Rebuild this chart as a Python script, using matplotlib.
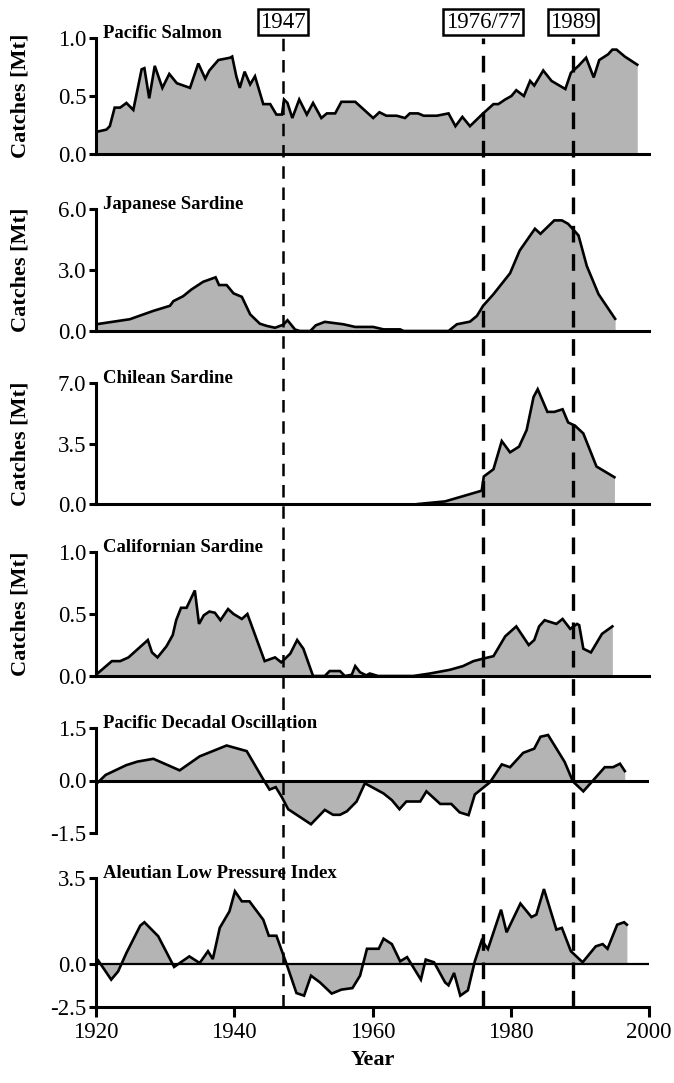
import numpy as np
import matplotlib
matplotlib.use("Agg")
import matplotlib.pyplot as plt

plt.rcParams["font.family"] = ["Liberation Serif", "DejaVu Serif"]
plt.rcParams["axes.unicode_minus"] = False

# ── data ──
salmon_yr = [1920, 1921.5, 1922, 1922.7, 1923.5, 1924.4, 1925.4, 1926.6, 1927, 1927.7,
             1928.5, 1929.6, 1930.6, 1931.7, 1933.6, 1934.8, 1935.8, 1936.4, 1937.7, 1939.4,
             1939.7, 1940.3, 1940.8, 1941.5, 1942.3, 1943, 1944.2, 1945.2, 1946.1, 1946.9,
             1947.2, 1947.7, 1948.4, 1949.4, 1950.5, 1951.4, 1952.6, 1953.4, 1954.6, 1955.5,
             1957.5, 1960.1, 1961, 1962, 1963.5, 1964.7, 1965.4, 1966.6, 1967.4, 1969.3,
             1971, 1972, 1973, 1974.1, 1976, 1977.5, 1978.2, 1979.2, 1980.1, 1980.8,
             1981.9, 1982.8, 1983.4, 1984.7, 1985.9, 1987.9, 1988.7, 1989.8, 1990.9, 1992,
             1992.8, 1994.1, 1994.7, 1995.3, 1996.5, 1998.3]
salmon = [0.19, 0.21, 0.24, 0.40, 0.40, 0.44, 0.38, 0.73, 0.74, 0.48,
          0.76, 0.57, 0.69, 0.61, 0.57, 0.78, 0.65, 0.72, 0.81, 0.83,
          0.84, 0.67, 0.57, 0.71, 0.60, 0.67, 0.43, 0.43, 0.34, 0.34,
          0.47, 0.44, 0.31, 0.47, 0.34, 0.44, 0.31, 0.35, 0.35, 0.45,
          0.45, 0.31, 0.36, 0.33, 0.33, 0.31, 0.35, 0.35, 0.33, 0.33,
          0.35, 0.24, 0.32, 0.24, 0.35, 0.43, 0.43, 0.47, 0.50, 0.55,
          0.50, 0.63, 0.59, 0.72, 0.63, 0.56, 0.70, 0.76, 0.83, 0.66,
          0.81, 0.86, 0.90, 0.90, 0.84, 0.77]

jap_yr = [1920, 1924.9, 1928.3, 1930.7, 1931.2, 1932.6, 1933.8, 1935.5, 1937.3, 1937.8,
          1938.9, 1939.9, 1941.1, 1942.3, 1943.7, 1944.7, 1945.9, 1947.1, 1947.7, 1948.8,
          1949.5, 1951, 1951.8, 1953.1, 1955.8, 1957.5, 1960.1, 1961.6, 1964, 1964.5,
          1971, 1972.2, 1974.1, 1975.1, 1976, 1977.5, 1979.9, 1981.3, 1983.5, 1984.3,
          1986.3, 1987.4, 1988.3, 1989.8, 1991, 1992.7, 1995.1]
jap = [0.33, 0.58, 0.99, 1.24, 1.47, 1.71, 2.04, 2.42, 2.64, 2.26,
       2.26, 1.85, 1.68, 0.82, 0.36, 0.25, 0.16, 0.31, 0.53, 0.07,
       0.0, 0.0, 0.28, 0.45, 0.33, 0.20, 0.20, 0.08, 0.08, 0.0,
       0.0, 0.33, 0.46, 0.74, 1.24, 1.81, 2.84, 3.96, 5.03, 4.78,
       5.44, 5.44, 5.27, 4.70, 3.20, 1.81, 0.60]

chile_yr = [1966.6, 1970.5, 1975.8, 1976.1, 1977.5, 1978.7, 1979.9, 1981.2, 1982.3, 1983.3,
            1983.9, 1985.3, 1986.3, 1987.5, 1988.3, 1989.3, 1990.5, 1992.4, 1995]
chile = [0.0, 0.15, 0.77, 1.59, 2.01, 3.64, 2.99, 3.32, 4.28, 6.19,
         6.64, 5.33, 5.33, 5.48, 4.72, 4.53, 4.08, 2.17, 1.55]

cal_yr = [1920, 1922.3, 1923.5, 1924.7, 1926.1, 1927.5, 1928.1, 1928.9, 1930.2, 1931.1,
          1931.6, 1932.3, 1933.1, 1934.3, 1934.9, 1935.6, 1936.4, 1937.2, 1938, 1939.1,
          1939.9, 1941.1, 1941.9, 1944.4, 1945.9, 1946.8, 1948.1, 1949.1, 1950, 1951.4,
          1953.1, 1953.8, 1955.3, 1956, 1957, 1957.5, 1958.2, 1959.1, 1959.6, 1960.8,
          1965.9, 1968.3, 1971.2, 1973.1, 1974.6, 1976, 1977.5, 1979.2, 1980.8, 1982.6,
          1983.4, 1984.1, 1984.9, 1986.6, 1987.5, 1988.6, 1989.6, 1989.9, 1990.5, 1991.6,
          1993.2, 1994.7]
cal = [0.01, 0.12, 0.12, 0.15, 0.22, 0.29, 0.19, 0.15, 0.24, 0.33,
       0.45, 0.55, 0.55, 0.69, 0.42, 0.49, 0.52, 0.51, 0.45, 0.54,
       0.50, 0.46, 0.50, 0.12, 0.15, 0.11, 0.18, 0.29, 0.22, 0.0,
       0.0, 0.04, 0.04, 0.0, 0.01, 0.08, 0.03, 0.005, 0.02, 0.0,
       0.0, 0.02, 0.05, 0.08, 0.12, 0.14, 0.16, 0.32, 0.40, 0.25,
       0.29, 0.40, 0.45, 0.42, 0.46, 0.38, 0.42, 0.41, 0.22, 0.19,
       0.34, 0.40]

pdo_yr = [1920.3, 1921.4, 1924.4, 1926, 1928.3, 1932.1, 1935, 1938.9, 1941.8, 1944.2,
          1945.1, 1946, 1946.9, 1947.8, 1951.1, 1953.1, 1954.3, 1955.3, 1956.3, 1957.7,
          1958.9, 1961.6, 1962.8, 1963.9, 1964.9, 1966.9, 1967.8, 1969.8, 1971.4, 1972.6,
          1973.9, 1974.8, 1975.8, 1977, 1978.7, 1979.9, 1981.8, 1983.4, 1984.3, 1985.4,
          1987.8, 1989, 1990.5, 1991.9, 1993.6, 1994.8, 1995.8, 1996.5]
pdo = [-0.05, 0.16, 0.44, 0.54, 0.62, 0.29, 0.69, 1.0, 0.84, 0.03,
       -0.26, -0.19, -0.48, -0.82, -1.25, -0.84, -0.98, -0.98, -0.88, -0.60,
       -0.08, -0.37, -0.56, -0.82, -0.60, -0.60, -0.31, -0.67, -0.67, -0.91,
       -0.99, -0.40, -0.24, -0.05, 0.46, 0.38, 0.79, 0.91, 1.25, 1.30,
       0.53, -0.03, -0.31, 0.0, 0.38, 0.38, 0.48, 0.27]

alpi_yr = [1920.3, 1922.2, 1923.2, 1924.4, 1926.4, 1927, 1929, 1931.3, 1933.5, 1935,
           1936.2, 1936.9, 1937.9, 1939.3, 1940.1, 1941.1, 1942.2, 1944.2, 1945, 1946.1,
           1947.6, 1949, 1950.1, 1951.1, 1952.4, 1954.1, 1955.5, 1957.1, 1958.2, 1959.2,
           1960.9, 1961.6, 1962.8, 1964, 1965, 1967, 1967.7, 1968.9, 1970.5, 1971,
           1971.8, 1972.7, 1973.8, 1974.8, 1975.8, 1976.7, 1978.6, 1979.4, 1981.4, 1983,
           1983.7, 1984.8, 1986.6, 1987.4, 1988.7, 1990.4, 1992.3, 1993.3, 1994, 1995.4,
           1996.4, 1996.8]
alpi = [0.15, -0.91, -0.43, 0.45, 1.56, 1.70, 1.13, -0.17, 0.31, 0.04,
        0.52, 0.20, 1.47, 2.14, 2.96, 2.55, 2.55, 1.80, 1.15, 1.15,
        -0.04, -1.69, -1.84, -0.68, -1.07, -1.72, -1.49, -1.40, -0.68, 0.62,
        0.62, 1.03, 0.81, 0.11, 0.28, -0.91, 0.18, 0.07, -1.07, -1.24,
        -0.52, -1.84, -1.53, 0.11, 0.96, 0.61, 2.21, 1.29, 2.46, 1.91,
        2.01, 3.05, 1.40, 1.47, 0.52, 0.07, 0.72, 0.81, 0.62, 1.60,
        1.70, 1.60]

titles = ["Pacific Salmon", "Japanese Sardine", "Chilean Sardine",
          "Californian Sardine", "Pacific Decadal Oscillation",
          "Aleutian Low Pressure Index"]
series = [(salmon_yr, salmon), (jap_yr, jap), (chile_yr, chile),
          (cal_yr, cal), (pdo_yr, pdo), (alpi_yr, alpi)]
yticks = [[0.0, 0.5, 1.0], [0.0, 3.0, 6.0], [0.0, 3.5, 7.0],
          [0.0, 0.5, 1.0], [-1.5, 0.0, 1.5], [-2.5, 0.0, 3.5]]
regime_years = [1947, 1976, 1989]
regime_labels = ["1947", "1976/77", "1989"]
xticks = [1920, 1940, 1960, 1980, 2000]

# panel extents in pixels (top, bottom)
W, H = 674, 1083
panels_px = [(38, 154), (209, 331), (383, 504), (552, 676), (728, 833), (878, 1007)]
x_left, x_right = 96, 649

fill_c = "#b4b4b4"
lw_line = 1.9
lw_spine = 2.2

fig = plt.figure(figsize=(W / 100, H / 100), dpi=100)

axes = []
for i, (top, bot) in enumerate(panels_px):
    ax = fig.add_axes([x_left / W, 1 - bot / H, (x_right - x_left) / W, (bot - top) / H])
    axes.append(ax)
    yrs, vals = series[i]
    yrs = np.array(yrs)
    vals = np.array(vals)

    if i == 5:
        # lower half of this axis is compressed in the original
        fwd = lambda y: np.where(y < 0, y * 0.7, y)
        inv = lambda y: np.where(y < 0, y / 0.7, y)
        ax.set_yscale("function", functions=(fwd, inv))

    ax.fill_between(yrs, vals, 0, color=fill_c, lw=0, zorder=1)
    ax.plot(yrs, vals, color="black", lw=lw_line, zorder=3, solid_joinstyle="miter")

    ax.set_xlim(1920, 2000)
    ax.set_ylim(yticks[i][0], yticks[i][-1])
    ax.set_yticks(yticks[i])
    ax.set_yticklabels([f"{t:.1f}" for t in yticks[i]])
    ax.tick_params(axis="y", direction="out", length=5, width=2.2, labelsize=16.5, pad=2)

    for s in ["top", "right"]:
        ax.spines[s].set_visible(False)
    ax.spines["left"].set_linewidth(lw_spine)
    ax.spines["bottom"].set_linewidth(lw_spine)
    ax.patch.set_alpha(0)

    if i in (4, 5):
        ax.axhline(0, color="black", lw=2.2 if i == 4 else 1.6, zorder=2)
    if i == 4:
        ax.spines["bottom"].set_visible(False)

    if i < 5:
        ax.set_xticks([])
    else:
        ax.set_xticks(xticks)
        ax.tick_params(axis="x", direction="out", length=7, width=2.2, labelsize=16.5, pad=4)
        ax.set_xlabel("Year", fontsize=16, fontweight="bold", labelpad=5)

    if i < 4:
        ax.set_ylabel("Catches [Mt]", fontsize=16, fontweight="bold")
        ax.yaxis.set_label_coords(-0.119, 0.5)

    ax.text(7 / (x_right - x_left), 1.0, titles[i], transform=ax.transAxes,
            fontsize=13.5, fontweight="bold", ha="left", va="baseline")

# overlay for the regime shift lines
top, bot = 38, 1007
ov = fig.add_axes([x_left / W, 1 - bot / H, (x_right - x_left) / W, (bot - top) / H])
ov.set_xlim(1920, 2000)
ov.set_ylim(0, 1)
ov.axis("off")
for k, yr in enumerate(regime_years):
    lw = 1.8 if k == 0 else 2.4
    ov.axvline(yr, color="black", lw=lw, linestyle=(0, (5, 3.5)), zorder=5)
    ov.text(yr, 1.0 + 16 / (bot - top), regime_labels[k], ha="center", va="center",
            fontsize=16.5, transform=ov.transData,
            bbox=dict(boxstyle="square,pad=0.1", fc="white", ec="black", lw=1.8))

fig.savefig("out.png", dpi=100)
